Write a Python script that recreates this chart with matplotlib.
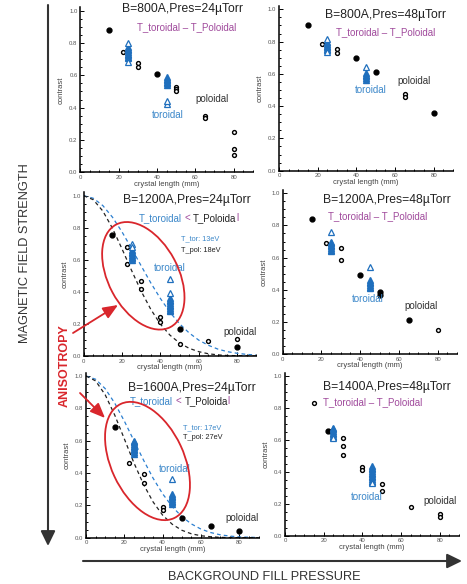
import matplotlib
matplotlib.use('Agg')
import matplotlib.pyplot as plt
from matplotlib.patches import Ellipse
from matplotlib.ticker import MultipleLocator, FormatStrFormatter

plt.rcParams['font.family'] = ['Liberation Sans', 'DejaVu Sans']

W, H = 467, 584
BLUE = '#1f6fbd'
BLUE_TXT = '#3b87c9'
MAG = '#a04a9c'
RED = '#d9262c'

# ---- data (crystal length mm, contrast) ----
titles = ['B=800A,Pres=24µTorr', 'B=800A,Pres=48µTorr',
          'B=1200A,Pres=24µTorr', 'B=1200A,Pres=48µTorr',
          'B=1600A,Pres=24µTorr', 'B=1400A,Pres=48µTorr']

# poloidal: open circles
pol_open_x = [[22.5, 30, 30, 50, 50, 50, 65, 65, 80, 80, 80],
              [22.5, 30, 30, 65, 65],
              [22.5, 22.5, 30, 30, 40, 40, 50, 65, 80],
              [22.5, 30, 30, 80],
              [22.5, 30, 30, 40, 40],
              [15, 30, 30, 30, 40, 40, 50, 50, 65, 80, 80]]
pol_open_y = [[0.745, 0.675, 0.65, 0.53, 0.515, 0.50, 0.35, 0.335, 0.25, 0.145, 0.11],
              [0.783, 0.755, 0.73, 0.475, 0.455],
              [0.68, 0.575, 0.465, 0.415, 0.245, 0.215, 0.075, 0.096, 0.104],
              [0.693, 0.658, 0.587, 0.148],
              [0.46, 0.394, 0.336, 0.19, 0.17],
              [0.827, 0.612, 0.5625, 0.506, 0.429, 0.4125, 0.321, 0.281, 0.181, 0.133, 0.119]]
# poloidal: dense (filled looking) points
pol_fill_x = [[15, 40], [15, 40, 50, 80], [15, 50, 80],
              [15, 40, 50, 50, 65], [15, 50, 65, 80], [22.5]]
pol_fill_y = [[0.88, 0.61], [0.905, 0.70, 0.61, 0.36], [0.755, 0.166, 0.054],
              [0.84, 0.494, 0.388, 0.367, 0.214], [0.687, 0.124, 0.074, 0.043], [0.654]]

# toroidal stacks at 25 mm and 45 mm
tor25 = [[0.705, 0.715, 0.725, 0.735, 0.745, 0.755, 0.765, 0.775],
         [0.745, 0.755, 0.765, 0.775, 0.785, 0.795],
         [0.60, 0.61, 0.62, 0.63, 0.64, 0.65, 0.66],
         [0.64, 0.65, 0.66, 0.67, 0.68, 0.69, 0.70],
         [0.52, 0.53, 0.54, 0.55, 0.56, 0.57, 0.58, 0.59, 0.60],
         [0.615, 0.625, 0.635, 0.645, 0.655, 0.665, 0.675]]
tor45 = [[0.54, 0.55, 0.56, 0.57, 0.58, 0.59],
         [0.565, 0.575, 0.585, 0.595, 0.605],
         [0.28, 0.29, 0.30, 0.31, 0.32, 0.33, 0.34, 0.35, 0.36],
         [0.41, 0.42, 0.43, 0.44, 0.45, 0.46],
         [0.21, 0.22, 0.23, 0.24, 0.25, 0.26, 0.27],
         [0.335, 0.345, 0.355, 0.365, 0.375, 0.385, 0.395, 0.405, 0.415, 0.425, 0.435]]
tor_open_x = [[25, 25, 45, 45], [25, 25, 45], [25, 25, 45, 45],
              [25, 45], [45], [25, 45]]
tor_open_y = [[0.685, 0.80, 0.42, 0.44], [0.815, 0.735, 0.645], [0.70, 0.68, 0.48, 0.395],
              [0.759, 0.539], [0.363], [0.61, 0.33]]

# model curves drawn in the 1200A / 1600A, 24 µTorr panels
curve_x = [0, 5, 10, 15, 20, 25, 30, 35, 40, 45, 50, 55, 60, 65, 70, 75, 80, 85, 90]
blue_1200 = [1.0, 0.984, 0.938, 0.866, 0.774, 0.67, 0.562, 0.456, 0.359, 0.273, 0.201,
             0.144, 0.099, 0.067, 0.043, 0.027, 0.017, 0.01, 0.006]
black_1200 = [1.0, 0.975, 0.904, 0.797, 0.668, 0.533, 0.404, 0.291, 0.199, 0.13, 0.081,
              0.048, 0.027, 0.014, 0.007, 0.003, 0.002, 0.001, 0.0]
blue_1600 = [1.0, 0.98, 0.922, 0.832, 0.721, 0.60, 0.48, 0.368, 0.271, 0.192, 0.13,
             0.085, 0.053, 0.032, 0.018, 0.01, 0.005, 0.003, 0.001]
black_1600 = [1.0, 0.97, 0.884, 0.758, 0.611, 0.463, 0.33, 0.221, 0.139, 0.083, 0.046,
              0.024, 0.012, 0.006, 0.002, 0.001, 0.0, 0.0, 0.0]
curves = {2: (blue_1200, black_1200), 4: (blue_1600, black_1600)}
temps = {2: ('T_tor: 13eV', 'T_pol: 18eV'), 4: ('T_tor: 17eV', 'T_pol: 27eV')}

# ---- layout (pixels): x of 0 mm, y of contrast 0, px per mm, y of contrast 1 ----
panel_px = [(80.3, 172.3, 1.917, 10.7), (279.0, 170.7, 1.933, 9.3),
            (83.7, 356.0, 1.917, 195.7), (282.5, 354.0, 1.94, 193.3),
            (86.0, 537.7, 1.917, 376.0), (285.0, 535.7, 1.933, 375.7)]
title_xy = [(21.6, 1.008), (23.8, 0.965), (20.7, 0.973), (20.9, 0.959), (21.7, 0.924), (19.8, 0.931)]
sub_xy = [(29.4, 0.901), (29.5, 0.857), (28.5, 0.863), (23.3, 0.861), (23.0, 0.847), (19.8, 0.8375)]
tor_xy = [(37.2, 0.355), (39.3, 0.50), (36.7, 0.551), (35.8, 0.342), (38.1, 0.425), (34.1, 0.24)]
pol_xy = [(59.8, 0.454), (61.2, 0.558), (72.9, 0.152), (62.6, 0.299), (72.5, 0.12), (71.6, 0.217)]
temp_xy = {2: (50.8, 0.734, 0.661), 4: (50.8, 0.682, 0.619)}

fig = plt.figure(figsize=(W / 100, H / 100), dpi=100)


def multi_text(ax, x, y, parts, colors, size, gaps):
    t = ax.text(x, y, parts[0], color=colors[0], fontsize=size, va='center', ha='left')
    for p, c, g in zip(parts[1:], colors[1:], gaps):
        t = ax.annotate(p, xy=(1, 0), xycoords=t, xytext=(g, 0), textcoords='offset points',
                        va='bottom', ha='left', color=c, fontsize=size)


for i in range(6):
    x0, y0, sx, y1 = panel_px[i]
    sy = y0 - y1
    ax = fig.add_axes([x0 / W, (H - y0) / H, sx * 90 / W, sy * 1.02 / H])
    ax.set_xlim(0, 90)
    ax.set_ylim(0, 1.02)
    for s in ['top', 'right']:
        ax.spines[s].set_visible(False)
    for s in ['left', 'bottom']:
        ax.spines[s].set_linewidth(1.1)
    ax.xaxis.set_major_locator(MultipleLocator(20))
    ax.xaxis.set_minor_locator(MultipleLocator(5))
    ax.yaxis.set_major_locator(MultipleLocator(0.2))
    ax.yaxis.set_minor_locator(MultipleLocator(0.05))
    ax.yaxis.set_major_formatter(FormatStrFormatter('%.1f'))
    ax.tick_params(which='both', direction='in', width=0.7, labelsize=4.3,
                   labelcolor='#555555', pad=2)
    ax.tick_params(which='major', length=3)
    ax.tick_params(which='minor', length=1.6)
    ax.set_xlabel('crystal length (mm)', fontsize=5.5, color='#444444', labelpad=0.5)
    ax.set_ylabel('contrast', fontsize=5.5, color='#444444', labelpad=3)

    if i in curves:
        bc, kc = curves[i]
        ax.plot(curve_x, bc, color='#2b7fd0', lw=0.9, dashes=(3, 2.5))
        ax.plot(curve_x, kc, color='#222222', lw=0.9, dashes=(3, 2.5))

    ax.plot(pol_open_x[i], pol_open_y[i], 'o', ms=2.8, mew=1.0, mfc='white', mec='black',
            clip_on=False)
    ax.plot(pol_fill_x[i], pol_fill_y[i], 'o', ms=3.5, color='black', clip_on=False)
    ax.plot([25] * len(tor25[i]), tor25[i], '^', ms=4.0, color=BLUE)
    ax.plot([45] * len(tor45[i]), tor45[i], '^', ms=4.0, color=BLUE)
    ax.plot(tor_open_x[i], tor_open_y[i], '^', ms=3.8, mew=0.9, mfc='white', mec=BLUE)

    ax.text(title_xy[i][0], title_xy[i][1], titles[i], fontsize=8.7, color='#222222',
            va='center', ha='left')
    if i in (2, 4):
        multi_text(ax, sub_xy[i][0], sub_xy[i][1], ['T_toroidal', '<', 'T_Poloida', 'l'],
                   [BLUE_TXT, MAG, '#222222', MAG], 7, [2, 2, 0])
        tx, ty1, ty2 = temp_xy[i]
        ax.text(tx, ty1, temps[i][0], fontsize=5.3, color=BLUE_TXT, va='center', ha='left')
        ax.text(tx, ty2, temps[i][1], fontsize=5.3, color='#222222', va='center', ha='left')
    else:
        ax.text(sub_xy[i][0], sub_xy[i][1], 'T_toroidal – T_Poloidal', fontsize=7, color=MAG,
                va='center', ha='left')
    ax.text(tor_xy[i][0], tor_xy[i][1], 'toroidal', fontsize=7, color=BLUE_TXT,
            va='center', ha='left')
    ax.text(pol_xy[i][0], pol_xy[i][1], 'poloidal', fontsize=7, color='#333333',
            va='center', ha='left')

# ---- overlay in pixel coordinates for arrows, ellipses and big labels ----
ov = fig.add_axes([0, 0, 1, 1], zorder=10)
ov.set_xlim(0, W)
ov.set_ylim(H, 0)
ov.axis('off')

big = dict(arrowstyle='-|>,head_length=0.45,head_width=0.22', color='#333333', lw=1.5,
           mutation_scale=20, shrinkA=0, shrinkB=0)
ov.annotate('', xy=(48, 546), xytext=(48, 5), arrowprops=big)
ov.annotate('', xy=(462, 561), xytext=(83, 561), arrowprops=big)
ov.text(25, 253, 'MAGNETIC FIELD STRENGTH', rotation=90, fontsize=9.2, color='#333333',
        ha='center', va='center')
ov.text(264, 577, 'BACKGROUND FILL PRESSURE', fontsize=9.2, color='#333333',
        ha='center', va='center')
ov.text(65, 366, 'ANISOTROPY', rotation=90, fontsize=9, fontweight='bold', color=RED,
        ha='center', va='center')

ov.add_patch(Ellipse((143.3, 275.8), 116, 70, angle=62, fill=False, ec=RED, lw=1.3))
ov.add_patch(Ellipse((147.5, 461), 126, 73, angle=65, fill=False, ec=RED, lw=1.3))
red = dict(arrowstyle='-|>,head_length=0.6,head_width=0.25', color=RED, lw=1.3,
           mutation_scale=15, shrinkA=0, shrinkB=0)
ov.annotate('', xy=(118, 305), xytext=(73, 333), arrowprops=red)
ov.annotate('', xy=(105, 418), xytext=(80, 393), arrowprops=red)

fig.savefig('out.png', dpi=100)
